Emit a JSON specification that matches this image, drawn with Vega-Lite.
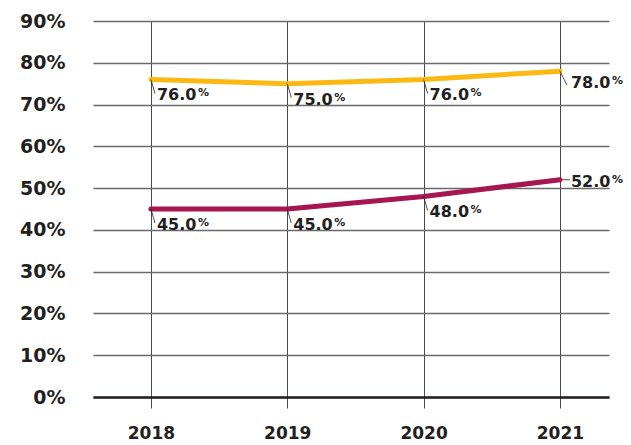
{
  "$schema": "https://vega.github.io/schema/vega-lite/v6.json",
  "width": 516,
  "height": 376,
  "autosize": {"type": "none"},
  "padding": {"left": 93, "top": 21, "right": 22, "bottom": 48},
  "background": "white",
  "config": {"view": {"stroke": null}, "font": "DejaVu Sans"},
  "data": {
    "values": [
      {"year": 2018, "series": "A", "value": 76, "label": "76.0"},
      {"year": 2019, "series": "A", "value": 75, "label": "75.0"},
      {"year": 2020, "series": "A", "value": 76, "label": "76.0"},
      {"year": 2021, "series": "A", "value": 78, "label": "78.0"},
      {"year": 2018, "series": "B", "value": 45, "label": "45.0"},
      {"year": 2019, "series": "B", "value": 45, "label": "45.0"},
      {"year": 2020, "series": "B", "value": 48, "label": "48.0"},
      {"year": 2021, "series": "B", "value": 52, "label": "52.0"}
    ]
  },
  "encoding": {
    "x": {
      "field": "year",
      "type": "quantitative",
      "scale": {"domain": [2017.575, 2021.36], "nice": false, "zero": false},
      "axis": {
        "title": null,
        "values": [2018, 2019, 2020, 2021],
        "format": "d",
        "grid": true,
        "gridColor": "#4a4a4a",
        "gridWidth": 1,
        "ticks": true,
        "tickSize": 11,
        "tickColor": "#4a4a4a",
        "tickWidth": 1,
        "domainColor": "#231F20",
        "domainWidth": 2.5,
        "labelFont": "DejaVu Sans",
        "labelFontSize": 17,
        "labelFontWeight": "bold",
        "labelColor": "#231F20",
        "labelPadding": 17,
        "labelFlush": false
      }
    },
    "y": {
      "field": "value",
      "type": "quantitative",
      "scale": {"domain": [0, 90], "nice": false},
      "axis": {
        "title": null,
        "values": [0, 10, 20, 30, 40, 50, 60, 70, 80, 90],
        "labelExpr": "datum.value + '%'",
        "grid": true,
        "gridColor": "#6a6a6a",
        "gridWidth": 1.3,
        "ticks": false,
        "domain": false,
        "labelFont": "DejaVu Sans",
        "labelFontSize": 19,
        "labelFontWeight": "bold",
        "labelColor": "#231F20",
        "labelPadding": 28
      }
    }
  },
  "layer": [
    {
      "mark": {"type": "line", "strokeWidth": 5, "strokeCap": "round"},
      "encoding": {
        "color": {
          "field": "series",
          "type": "nominal",
          "scale": {"domain": ["A", "B"], "range": ["#FDB913", "#A6174F"]},
          "legend": null
        }
      }
    },
    {
      "transform": [{"filter": "datum.year < 2021"}],
      "mark": {"type": "rule", "color": "#231F20", "strokeWidth": 0.8, "x2Offset": 4, "y2Offset": 14},
      "encoding": {"x2": {"field": "year"}, "y2": {"field": "value"}}
    },
    {
      "transform": [{"filter": "datum.year == 2021 && datum.series == 'A'"}],
      "mark": {"type": "rule", "color": "#231F20", "strokeWidth": 0.8, "x2Offset": 7, "y2Offset": 14},
      "encoding": {"x2": {"field": "year"}, "y2": {"field": "value"}}
    },
    {
      "transform": [{"filter": "datum.year == 2021 && datum.series == 'B'"}],
      "mark": {"type": "rule", "color": "#231F20", "strokeWidth": 0.8, "xOffset": 2, "x2Offset": 10},
      "encoding": {"x2": {"field": "year"}, "y2": {"field": "value"}}
    },
    {
      "transform": [{"filter": "datum.year < 2021"}],
      "mark": {"type": "text", "align": "left", "baseline": "top", "dx": 6, "dy": 8, "fontSize": 16, "fontWeight": "bold", "color": "#231F20"},
      "encoding": {"text": {"field": "label"}}
    },
    {
      "transform": [{"filter": "datum.year < 2021"}],
      "mark": {"type": "text", "align": "left", "baseline": "top", "dx": 47, "dy": 8, "fontSize": 11, "fontWeight": "bold", "color": "#231F20", "text": "%"}
    },
    {
      "transform": [{"filter": "datum.year == 2021 && datum.series == 'A'"}],
      "mark": {"type": "text", "align": "left", "baseline": "top", "dx": 11, "dy": 4, "fontSize": 16, "fontWeight": "bold", "color": "#231F20"},
      "encoding": {"text": {"field": "label"}}
    },
    {
      "transform": [{"filter": "datum.year == 2021 && datum.series == 'A'"}],
      "mark": {"type": "text", "align": "left", "baseline": "top", "dx": 52, "dy": 4, "fontSize": 11, "fontWeight": "bold", "color": "#231F20", "text": "%"}
    },
    {
      "transform": [{"filter": "datum.year == 2021 && datum.series == 'B'"}],
      "mark": {"type": "text", "align": "left", "baseline": "top", "dx": 11, "dy": -6, "fontSize": 16, "fontWeight": "bold", "color": "#231F20"},
      "encoding": {"text": {"field": "label"}}
    },
    {
      "transform": [{"filter": "datum.year == 2021 && datum.series == 'B'"}],
      "mark": {"type": "text", "align": "left", "baseline": "top", "dx": 52, "dy": -6, "fontSize": 11, "fontWeight": "bold", "color": "#231F20", "text": "%"}
    }
  ]
}
